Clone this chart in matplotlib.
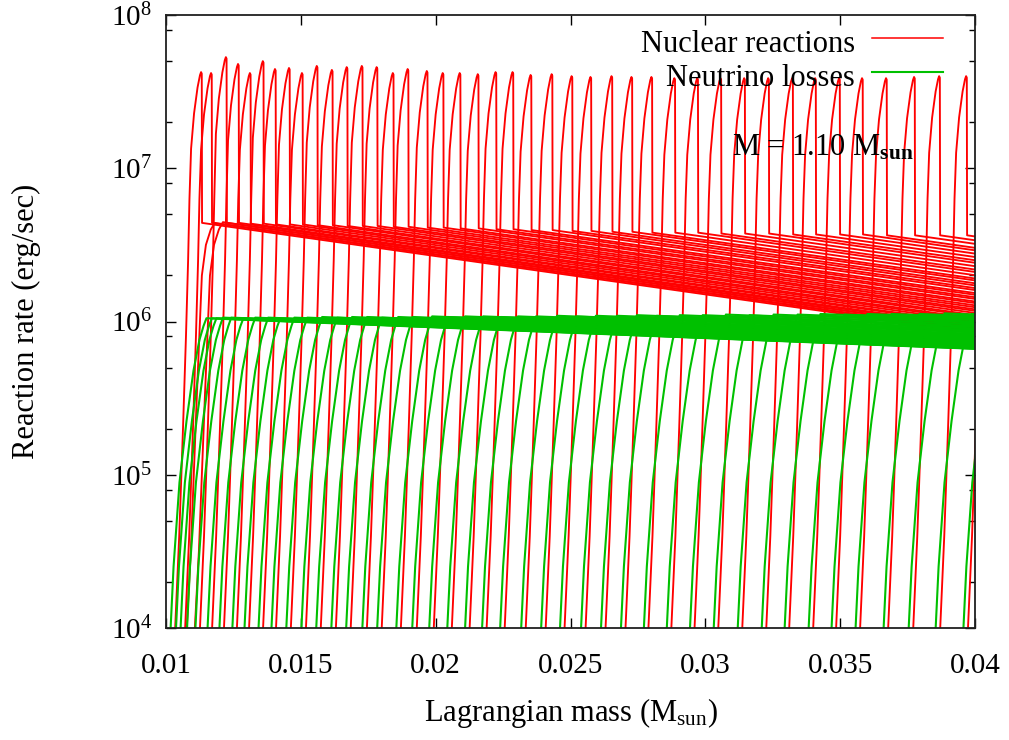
import numpy as np
import matplotlib
matplotlib.use('Agg')
import matplotlib.pyplot as plt
from matplotlib.ticker import LogLocator, FixedLocator, NullFormatter, FuncFormatter

plt.rcParams['font.family'] = ['Liberation Serif', 'DejaVu Serif']
plt.rcParams['mathtext.fontset'] = 'custom'
plt.rcParams['mathtext.rm'] = 'Liberation Serif'
plt.rcParams['mathtext.it'] = 'Liberation Serif:italic'
plt.rcParams['mathtext.bf'] = 'Liberation Serif:bold'

# ---------------- data ----------------
# mass position (Msun) of the flame front (nuclear peak) of each profile
front_mass = [0.01130, 0.01167, 0.01222, 0.01267, 0.01311, 0.01359, 0.01404, 0.01456,
              0.01504, 0.01559, 0.01615, 0.01670, 0.01726, 0.01781, 0.01841, 0.01896,
              0.01967, 0.02026, 0.02089, 0.02156, 0.02222, 0.02285, 0.02352, 0.02430,
              0.02504, 0.02574, 0.02652, 0.02726, 0.02800, 0.02885, 0.02970, 0.03056,
              0.03144, 0.03233, 0.03322, 0.03407, 0.03496, 0.03581, 0.03670, 0.03774,
              0.03867, 0.03967, 0.04070]
# peak nuclear rate (erg/s) at each front
peak_rate = [4.24e7, 4.18e7, 5.31e7, 4.79e7, 4.18e7, 5.00e7, 4.44e7, 4.51e7,
             4.18e7, 4.65e7, 4.38e7, 4.57e7, 4.65e7, 4.57e7, 4.18e7, 4.44e7,
             4.31e7, 4.18e7, 4.18e7, 4.11e7, 4.24e7, 4.24e7, 4.06e7, 4.11e7,
             3.99e7, 3.94e7, 3.99e7, 3.94e7, 3.94e7, 3.87e7, 3.87e7, 3.87e7,
             3.87e7, 3.87e7, 3.87e7, 3.87e7, 3.87e7, 3.87e7, 3.87e7, 3.94e7,
             3.99e7, 3.99e7, 3.99e7]
# nuclear rate just behind each front (erg/s)
nuc_plateau = [4.40e6, 4.40e6, 4.40e6, 4.40e6, 4.35e6, 4.35e6, 4.30e6, 4.30e6,
               4.30e6, 4.25e6, 4.25e6, 4.20e6, 4.20e6, 4.20e6, 4.15e6, 4.15e6,
               4.10e6, 4.10e6, 4.05e6, 4.05e6, 4.00e6, 4.00e6, 3.95e6, 3.95e6,
               3.90e6, 3.90e6, 3.85e6, 3.85e6, 3.80e6, 3.80e6, 3.80e6, 3.75e6,
               3.75e6, 3.75e6, 3.70e6, 3.70e6, 3.70e6, 3.70e6, 3.65e6, 3.65e6,
               3.65e6, 3.65e6, 3.65e6]
# neutrino-loss level just behind each front (erg/s)
nu_plateau = [1.05e6, 1.05e6, 1.06e6, 1.05e6, 1.06e6, 1.06e6, 1.05e6, 1.06e6,
              1.06e6, 1.07e6, 1.06e6, 1.07e6, 1.07e6, 1.06e6, 1.07e6, 1.07e6,
              1.08e6, 1.07e6, 1.08e6, 1.08e6, 1.07e6, 1.08e6, 1.08e6, 1.09e6,
              1.08e6, 1.09e6, 1.09e6, 1.10e6, 1.09e6, 1.10e6, 1.10e6, 1.11e6,
              1.10e6, 1.11e6, 1.11e6, 1.12e6, 1.11e6, 1.12e6, 1.12e6, 1.12e6,
              1.13e6, 1.12e6, 1.13e6]
# the two early smooth profiles (no flame peak yet)
early_knee_mass = [0.01181, 0.01211]
early_nu_knee_mass = [0.01170, 0.01211]
early_plateau = [4.40e6, 4.45e6]
early_nu_plateau = [1.05e6, 1.06e6]

# profile shapes (offsets in Msun, log10 of rate)
nuc_rise_dm = [-0.00107, -0.00096, -0.00081, -0.00067, -0.00056, -0.00048, -0.00043]
nuc_rise_log = [3.6, 4.0, 4.6, 5.3, 5.9, 6.4, 6.8]
nuc_cap_dm = [-0.00037, -0.00026, -0.00013, -0.00004, 0.0, 0.000026]
nuc_cap_depth = [0.50, 0.27, 0.10, 0.02, 0.0, 0.01]
nuc_drop_dm = 0.000037
nuc_smooth_dm = [-0.00119, -0.00089, -0.00067, -0.00048, -0.00033, -0.00015, 0.0]
nuc_smooth_log = [3.5, 4.5, 5.5, 6.3, 6.5, 6.6]
nu_rise_dm = [-0.00148, -0.00141, -0.00122, -0.00100, -0.00074, -0.00048, -0.00026, -0.00011, 0.0]
nu_rise_log = [3.4, 3.7, 4.4, 4.95, 5.35, 5.68, 5.88, 5.97]
nu_knee_offset = 0.0002
nuc_decline = 25.0   # dex per Msun behind the front
nu_decline = 7.0     # dex per Msun behind the front
x_end = 0.0405

x_ticks = [0.01, 0.015, 0.02, 0.025, 0.03, 0.035, 0.04]
x_ticklabels = ['0.01', '0.015', '0.02', '0.025', '0.03', '0.035', '0.04']
y_decades = [4, 5, 6, 7, 8]
legend_labels = ['Nuclear reactions', 'Neutrino losses']

RED = '#ff0000'
GREEN = '#00c000'
LW_RED = 1.35
LW_GREEN = 1.5

W, H = 1009, 740
fig = plt.figure(figsize=(W / 100, H / 100), dpi=100)
L, R, T, B = 166, 975, 15, 628
ax = fig.add_axes([L / W, 1 - B / H, (R - L) / W, (B - T) / H])
ax.set_yscale('log')


def plateau(x0, lv0, slope):
    xs = np.array([x0, x_end])
    return xs, lv0 - slope * (xs - x0)

# ---- nuclear reaction profiles ----
for xk, pl in zip(early_knee_mass, early_plateau):
    lp = np.log10(pl)
    xs = xk + np.array(nuc_smooth_dm)
    ys = list(nuc_smooth_log) + [lp]
    px, py = plateau(xk, lp, nuc_decline)
    X = np.concatenate([xs, px[1:]])
    Y = np.concatenate([ys, py[1:]])
    ax.plot(X, 10**Y, color=RED, lw=LW_RED)

for m0, pk, pl in zip(front_mass, peak_rate, nuc_plateau):
    lpk = np.log10(pk)
    lpl = np.log10(pl)
    xs = list(m0 + np.array(nuc_rise_dm)) + list(m0 + np.array(nuc_cap_dm))
    ys = list(nuc_rise_log) + list(lpk - np.array(nuc_cap_depth))
    px, py = plateau(m0 + nuc_drop_dm, lpl, nuc_decline)
    X = np.concatenate([xs, px])
    Y = np.concatenate([ys, py])
    ax.plot(X, 10**Y, color=RED, lw=LW_RED)

# ---- neutrino loss profiles ----
nu_knees = list(early_nu_knee_mass) + [m + nu_knee_offset for m in front_mass]
nu_levels = list(early_nu_plateau) + list(nu_plateau)
for xk, gl in zip(nu_knees, nu_levels):
    lg = np.log10(gl)
    xs = xk + np.array(nu_rise_dm)
    ys = list(nu_rise_log) + [lg]
    px, py = plateau(xk, lg, nu_decline)
    X = np.concatenate([xs, px[1:]])
    Y = np.concatenate([ys, py[1:]])
    ax.plot(X, 10**Y, color=GREEN, lw=LW_GREEN)

ax.set_xlim(0.01, 0.04)
ax.set_ylim(1e4, 1e8)

ax.xaxis.set_major_locator(FixedLocator(x_ticks))
ax.set_xticklabels(x_ticklabels)
ax.yaxis.set_major_locator(FixedLocator([10.0**d for d in y_decades]))
ax.yaxis.set_major_formatter(FuncFormatter(lambda v, p: r'$10^{%d}$' % round(np.log10(v))))
ax.yaxis.set_minor_locator(LogLocator(base=10, subs=(2.0, 5.0, 8.0)))
ax.yaxis.set_minor_formatter(NullFormatter())
ax.tick_params(axis='both', which='both', direction='in', top=True, right=True,
               labelsize=21, colors='black')
ax.tick_params(axis='both', which='major', length=7, width=1.0)
ax.tick_params(axis='y', which='minor', length=4, width=1.0)
ax.tick_params(axis='x', which='major', pad=18)
ax.tick_params(axis='y', which='major', pad=10)
for s in ax.spines.values():
    s.set_linewidth(1.3)
    s.set_color('#202020')

ax.set_xlabel(r'Lagrangian mass (M$_{\mathrm{sun}}$)', fontsize=22, labelpad=12)
ax.set_ylabel('Reaction rate (erg/sec)', fontsize=22, labelpad=50)

ax.text((732 - L) / (R - L), (B - 148) / (B - T), r'M = 1.10 M$_{\mathbf{sun}}$',
        transform=ax.transAxes, fontsize=22, ha='left', va='center')

# legend: label right-aligned, sample line to its right
for i, (lab, col, lw) in enumerate(zip(legend_labels, [RED, GREEN], [1.1, 1.5])):
    ty = (B - (44 + 35 * i)) / (B - T)
    ly = (B - (38 + 34 * i)) / (B - T)
    ax.text((855 - L) / (R - L), ty, lab, transform=ax.transAxes, fontsize=22,
            ha='right', va='center')
    ax.plot([(872 - L) / (R - L), (943 - L) / (R - L)], [ly, ly], color=col, lw=lw,
            transform=ax.transAxes, clip_on=False)

fig.savefig('out.png', dpi=100)
